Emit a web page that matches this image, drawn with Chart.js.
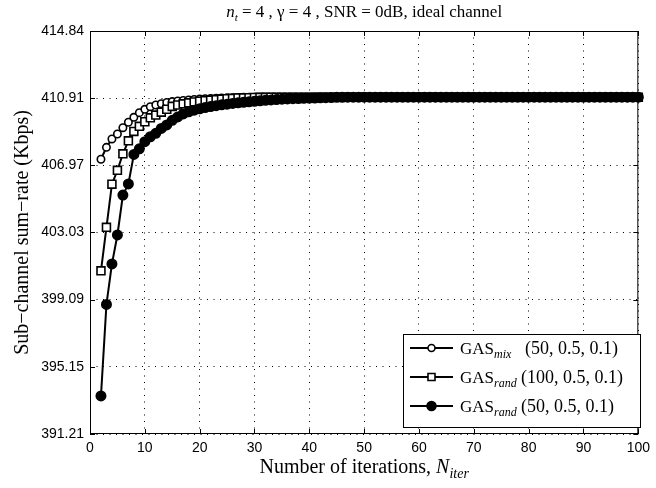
<!DOCTYPE html>
<html>
<head>
<meta charset="utf-8">
<title>Sub-channel sum-rate vs iterations</title>
<script src="https://cdn.jsdelivr.net/npm/chart.js@4.4.0/dist/chart.umd.min.js"></script>
<style>
  html, body { margin: 0; padding: 0; background: #fff; }
  #wrap { width: 656px; height: 488px; }
</style>
</head>
<body>
<div id="wrap"><canvas id="rate-chart" width="656" height="488"></canvas></div>
<script>
"use strict";

// iteration index (x) for every marker
const iterations = [
  2, 3, 4, 5, 6, 7, 8, 9, 10,
  11, 12, 13, 14, 15, 16, 17, 18, 19, 20,
  21, 22, 23, 24, 25, 26, 27, 28, 29, 30,
  31, 32, 33, 34, 35, 36, 37, 38, 39, 40,
  41, 42, 43, 44, 45, 46, 47, 48, 49, 50,
  51, 52, 53, 54, 55, 56, 57, 58, 59, 60,
  61, 62, 63, 64, 65, 66, 67, 68, 69, 70,
  71, 72, 73, 74, 75, 76, 77, 78, 79, 80,
  81, 82, 83, 84, 85, 86, 87, 88, 89, 90,
  91, 92, 93, 94, 95, 96, 97, 98, 99, 100
];

// GAS_mix (50, 0.5, 0.1) - open circles
const mixRate = [
  407.32, 408.02, 408.51, 408.80, 409.17, 409.49, 409.78, 410.05, 410.25,
  410.40, 410.50, 410.58, 410.65, 410.70, 410.74, 410.77, 410.80, 410.83, 410.85,
  410.87, 410.88, 410.90, 410.91, 410.92, 410.93, 410.94, 410.95, 410.95, 410.96,
  410.96, 410.96, 410.96, 410.96, 410.96, 410.96, 410.96, 410.96, 410.96, 410.96,
  410.96, 410.96, 410.96, 410.96, 410.96, 410.96, 410.96, 410.96, 410.96, 410.96,
  410.96, 410.96, 410.96, 410.96, 410.96, 410.96, 410.96, 410.96, 410.96, 410.96,
  410.96, 410.96, 410.96, 410.96, 410.96, 410.96, 410.96, 410.96, 410.96, 410.96,
  410.96, 410.96, 410.96, 410.96, 410.96, 410.96, 410.96, 410.96, 410.96, 410.96,
  410.96, 410.96, 410.96, 410.96, 410.96, 410.96, 410.96, 410.96, 410.96, 410.96,
  410.96, 410.96, 410.96, 410.96, 410.96, 410.96, 410.96, 410.96, 410.96, 410.96
];

// GAS_rand (100, 0.5, 0.1) - open squares
const rand100Rate = [
  400.78, 403.33, 405.86, 406.67, 407.64, 408.40, 408.95, 409.25, 409.52,
  409.75, 409.91, 410.08, 410.25, 410.42, 410.50, 410.57, 410.63, 410.68, 410.72,
  410.76, 410.79, 410.82, 410.85, 410.87, 410.89, 410.91, 410.92, 410.93, 410.94,
  410.95, 410.95, 410.96, 410.96, 410.96, 410.96, 410.96, 410.96, 410.96, 410.96,
  410.96, 410.96, 410.96, 410.96, 410.96, 410.96, 410.96, 410.96, 410.96, 410.96,
  410.96, 410.96, 410.96, 410.96, 410.96, 410.96, 410.96, 410.96, 410.96, 410.96,
  410.96, 410.96, 410.96, 410.96, 410.96, 410.96, 410.96, 410.96, 410.96, 410.96,
  410.96, 410.96, 410.96, 410.96, 410.96, 410.96, 410.96, 410.96, 410.96, 410.96,
  410.96, 410.96, 410.96, 410.96, 410.96, 410.96, 410.96, 410.96, 410.96, 410.96,
  410.96, 410.96, 410.96, 410.96, 410.96, 410.96, 410.96, 410.96, 410.96, 410.96
];

// GAS_rand (50, 0.5, 0.1) - filled circles
const rand50Rate = [
  393.44, 398.81, 401.18, 402.88, 405.22, 405.87, 407.60, 407.93, 408.35,
  408.64, 408.84, 409.13, 409.33, 409.60, 409.80, 409.98, 410.10, 410.20, 410.28,
  410.35, 410.41, 410.46, 410.51, 410.55, 410.59, 410.63, 410.66, 410.69, 410.72,
  410.75, 410.78, 410.80, 410.82, 410.84, 410.86, 410.87, 410.88, 410.89, 410.90,
  410.91, 410.92, 410.93, 410.94, 410.95, 410.95, 410.96, 410.96, 410.96, 410.96,
  410.96, 410.96, 410.96, 410.96, 410.96, 410.96, 410.96, 410.96, 410.96, 410.96,
  410.96, 410.96, 410.96, 410.96, 410.96, 410.96, 410.96, 410.96, 410.96, 410.96,
  410.96, 410.96, 410.96, 410.96, 410.96, 410.96, 410.96, 410.96, 410.96, 410.96,
  410.96, 410.96, 410.96, 410.96, 410.96, 410.96, 410.96, 410.96, 410.96, 410.96,
  410.96, 410.96, 410.96, 410.96, 410.96, 410.96, 410.96, 410.96, 410.96, 410.96
];

const xTicks = [0, 10, 20, 30, 40, 50, 60, 70, 80, 90, 100];
const yTicks = [391.21, 395.15, 399.09, 403.03, 406.97, 410.91, 414.84];

const legendEntries = [
  { base: "GAS", sub: "mix", params: "(50, 0.5, 0.1)", style: "circle", fill: "#fff" },
  { base: "GAS", sub: "rand", params: "(100, 0.5, 0.1)", style: "rect", fill: "#fff" },
  { base: "GAS", sub: "rand", params: "(50, 0.5, 0.1)", style: "circle", fill: "#000" }
];

const SERIF = '"Liberation Serif", "Times New Roman", serif';
const SANS = '"Liberation Sans", Arial, sans-serif';

function toPoints(values) {
  return iterations.map((n, i) => ({ x: n, y: values[i] }));
}

// draw a run of text pieces (with optional subscript offset), left to right
function drawParts(ctx, parts, x, y, align) {
  let total = 0;
  parts.forEach((p) => {
    ctx.font = p.font;
    p.w = ctx.measureText(p.t).width;
    total += p.w;
  });
  let cx = align === "center" ? x - total / 2 : x;
  ctx.textAlign = "left";
  ctx.textBaseline = "alphabetic";
  parts.forEach((p) => {
    ctx.font = p.font;
    ctx.fillText(p.t, cx, y + (p.dy || 0));
    cx += p.w;
  });
  return cx;
}

const framePlugin = {
  id: "frame",
  afterDraw(chart) {
    const ctx = chart.ctx;
    const { left, right, top, bottom } = chart.chartArea;
    const xs = chart.scales.x;
    const ys = chart.scales.y;
    ctx.save();
    ctx.strokeStyle = "#000";
    ctx.lineWidth = 1;
    ctx.setLineDash([]);
    ctx.strokeRect(left + 0.5, top + 0.5, right - left - 1, bottom - top - 1);

    // inward tick marks on all four sides
    ctx.beginPath();
    xTicks.forEach((v) => {
      const px = Math.round(xs.getPixelForValue(v)) + 0.5;
      ctx.moveTo(px, bottom); ctx.lineTo(px, bottom - 5);
      ctx.moveTo(px, top); ctx.lineTo(px, top + 5);
    });
    yTicks.forEach((v) => {
      const py = Math.round(ys.getPixelForValue(v)) + 0.5;
      ctx.moveTo(left, py); ctx.lineTo(left + 5, py);
      ctx.moveTo(right, py); ctx.lineTo(right - 5, py);
    });
    ctx.stroke();

    ctx.fillStyle = "#000";
    // title
    drawParts(ctx, [
      { t: "n", font: "italic 17px " + SERIF },
      { t: "t", font: "italic 11px " + SERIF, dy: 4 },
      { t: " = 4 , \u03b3 = 4 , SNR = 0dB, ideal channel", font: "17px " + SERIF }
    ], (left + right) / 2, 17, "center");

    // x axis title
    drawParts(ctx, [
      { t: "Number of iterations, ", font: "20px " + SERIF },
      { t: "N", font: "italic 20px " + SERIF },
      { t: "iter", font: "italic 14px " + SERIF, dy: 5 }
    ], (left + right) / 2, 473, "center");

    // y axis title
    ctx.save();
    ctx.translate(28, (top + bottom) / 2);
    ctx.rotate(-Math.PI / 2);
    drawParts(ctx, [
      { t: "Sub\u2212channel sum\u2212rate (Kbps)", font: "20px " + SERIF }
    ], 0, 0, "center");
    ctx.restore();

    // legend
    const lx = 403, ly = 334, lw = 237, lh = 93;
    ctx.fillStyle = "#fff";
    ctx.fillRect(lx, ly, lw, lh);
    ctx.strokeStyle = "#000";
    ctx.lineWidth = 1;
    ctx.strokeRect(lx + 0.5, ly + 0.5, lw, lh);
    legendEntries.forEach((e, i) => {
      const y = ly + 14 + i * 29;
      ctx.strokeStyle = "#000";
      ctx.lineWidth = 2;
      ctx.beginPath();
      ctx.moveTo(lx + 7, y); ctx.lineTo(lx + 50, y);
      ctx.stroke();
      ctx.fillStyle = e.fill;
      ctx.lineWidth = 1.6;
      ctx.beginPath();
      if (e.style === "rect") {
        ctx.rect(lx + 28.5 - 3.5, y - 3.5, 7, 7);
      } else {
        ctx.arc(lx + 28.5, y, e.fill === "#000" ? 4.5 : 3.5, 0, Math.PI * 2);
      }
      ctx.fill();
      ctx.stroke();
      ctx.fillStyle = "#000";
      const end = drawParts(ctx, [
        { t: e.base, font: "17px " + SERIF },
        { t: e.sub, font: "italic 12px " + SERIF, dy: 4 }
      ], lx + 57, y + 6, "left");
      ctx.font = "18px " + SERIF;
      ctx.fillText(e.params, Math.max(lx + (i === 0 ? 122 : 118), end + 4), y + 6);
    });
    ctx.restore();
  }
};

function lineDataset(label, values, style, fill, radius, order) {
  return {
    label,
    data: toPoints(values),
    borderColor: "#000",
    borderWidth: 2,
    pointStyle: style,
    pointRadius: radius,
    pointBackgroundColor: fill,
    pointBorderColor: "#000",
    pointBorderWidth: 1.6,
    tension: 0,
    fill: false,
    clip: false,
    order
  };
}

const canvas = document.getElementById("rate-chart");
new Chart(canvas.getContext("2d"), {
  type: "line",
  data: {
    datasets: [
      lineDataset("GAS_mix (50, 0.5, 0.1)", mixRate, "circle", "#fff", 3.7, 2),
      lineDataset("GAS_rand (100, 0.5, 0.1)", rand100Rate, "rect", "#fff", 5.6, 1),
      lineDataset("GAS_rand (50, 0.5, 0.1)", rand50Rate, "circle", "#000", 4.7, 0)
    ]
  },
  options: {
    responsive: false,
    animation: false,
    devicePixelRatio: 1,
    layout: { padding: { left: 0, right: 13, top: 31, bottom: 0 } },
    plugins: {
      legend: { display: false },
      title: { display: false },
      tooltip: { enabled: false }
    },
    scales: {
      x: {
        type: "linear",
        min: 0,
        max: 100,
        afterFit(scale) { scale.height = 54; },
        afterBuildTicks(scale) { scale.ticks = xTicks.map((v) => ({ value: v })); },
        ticks: {
          color: "#000",
          font: { family: SANS, size: 14 },
          padding: 6,
          maxRotation: 0
        },
        grid: { color: "#000", lineWidth: 1, drawTicks: false },
        border: { display: false, dash: [1, 5.5] }
      },
      y: {
        min: 391.21,
        max: 414.84,
        afterFit(scale) { scale.width = 90; },
        afterBuildTicks(scale) { scale.ticks = yTicks.map((v) => ({ value: v })); },
        ticks: {
          color: "#000",
          font: { family: SANS, size: 14 },
          padding: 6,
          callback: (v) => Number(v).toFixed(2)
        },
        grid: { color: "#000", lineWidth: 1, drawTicks: false },
        border: { display: false, dash: [1, 5.5] }
      }
    }
  },
  plugins: [framePlugin]
});
</script>
</body>
</html>
